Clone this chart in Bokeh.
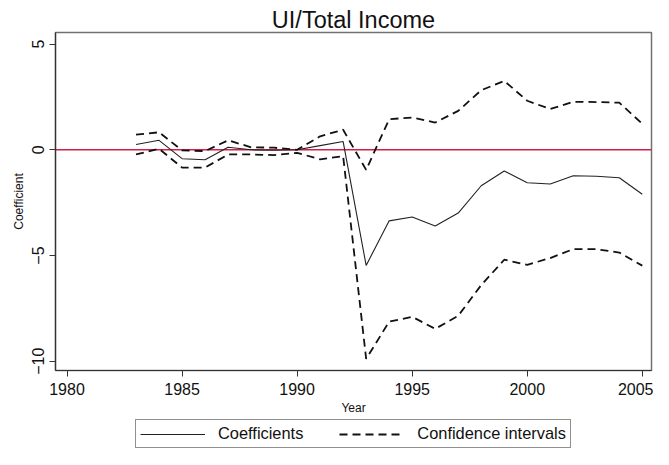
import math
from bokeh.plotting import figure
from bokeh.layouts import column
from bokeh.models import Range1d, FixedTicker, Span, Legend, LegendItem
from bokeh.embed import file_html
from bokeh.resources import INLINE

years = list(range(1983, 2006))
coef = [0.25, 0.45, -0.42, -0.47, 0.12, 0.0, -0.02, 0.0, 0.2, 0.39,
        -5.47, -3.36, -3.18, -3.60, -2.99, -1.70, -1.00, -1.56, -1.62,
        -1.23, -1.25, -1.32, -2.10]
ci_upper = [0.72, 0.83, -0.03, -0.06, 0.45, 0.12, 0.10, 0.0, 0.64, 0.95,
            -0.95, 1.45, 1.53, 1.29, 1.84, 2.82, 3.26, 2.32, 1.93,
            2.27, 2.26, 2.23, 1.23]
ci_lower = [-0.22, 0.05, -0.84, -0.84, -0.22, -0.22, -0.25, -0.14, -0.45, -0.30,
            -9.89, -8.13, -7.90, -8.47, -7.85, -6.40, -5.20, -5.44, -5.12,
            -4.70, -4.70, -4.86, -5.48]
x_ticks = [1980, 1985, 1990, 1995, 2000, 2005]
y_ticks = [-10, -5, 0, 5]
legend_labels = ["Coefficients", "Confidence intervals"]

FONT = "Liberation Sans"
SOLID = dict(line_color="#222222", line_width=1.1)
DASHED = dict(line_color="#111111", line_width=1.8, line_dash="8 5")

p = figure(frame_width=596, frame_height=338, output_backend="svg",
           toolbar_location=None,
           x_range=Range1d(1979.50, 2005.40), y_range=Range1d(-10.44, 5.55),
           min_border_left=55, min_border_right=2, min_border_top=32,
           min_border_bottom=47)

p.title.text = "UI/Total Income"
p.title.align = "center"
p.title.text_font = FONT
p.title.text_font_style = "normal"
p.title.text_font_size = "23.5px"
p.title.text_color = "#111111"
p.title.standoff = 0
p.title.offset = 0

p.background_fill_color = "white"
p.border_fill_color = "white"
p.outline_line_color = "#707070"
p.outline_line_width = 1.5
p.xgrid.visible = False
p.ygrid.visible = False

for ax in (p.xaxis[0], p.yaxis[0]):
    ax.axis_line_color = "#333333"
    ax.axis_line_width = 1.2
    ax.major_tick_line_color = "#333333"
    ax.major_tick_in = 0
    ax.major_tick_out = 6
    ax.minor_tick_line_color = None
    ax.major_label_text_font = FONT
    ax.major_label_text_font_size = "16px"
    ax.major_label_text_color = "#111111"
    ax.axis_label_text_font = FONT
    ax.axis_label_text_font_size = "12px"
    ax.axis_label_text_font_style = "normal"
    ax.axis_label_text_color = "#111111"

p.xaxis.ticker = FixedTicker(ticks=x_ticks)
p.yaxis.ticker = FixedTicker(ticks=y_ticks)
p.xaxis.axis_label = "Year"
p.yaxis.axis_label = "Coefficient"
p.yaxis.major_label_orientation = "parallel"
p.xaxis.major_label_standoff = 6
p.xaxis.axis_label_standoff = 3
p.yaxis.major_label_standoff = 5
p.yaxis.axis_label_standoff = 4

zero = Span(location=0, dimension="width", line_color="#d11f49",
            line_width=1.6, level="underlay")
p.add_layout(zero)

p.line(years, coef, **SOLID)
p.line(years, ci_upper, **DASHED)
p.line(years, ci_lower, **DASHED)

# legend strip below the chart (its key lines use the same data, outside its view)
pl = figure(width=653, height=32, output_backend="svg", toolbar_location=None,
            x_range=Range1d(0, 1), y_range=Range1d(0, 1), min_border=0)
pl.title.visible = False
pl.xaxis.visible = False
pl.yaxis.visible = False
pl.xgrid.visible = False
pl.ygrid.visible = False
pl.outline_line_color = None
pl.background_fill_color = "white"
pl.border_fill_color = "white"
k1 = pl.line(years, coef, **SOLID)
k2 = pl.line(years, ci_upper, **DASHED)
legend = Legend(items=[LegendItem(label=legend_labels[0], renderers=[k1]),
                       LegendItem(label=legend_labels[1], renderers=[k2])],
                orientation="horizontal", location=(80, 1),
                label_text_font=FONT, label_text_font_size="16.4px",
                label_text_color="#111111",
                glyph_width=65, glyph_height=18, label_standoff=13,
                spacing=36, padding=4, margin=0,
                border_line_color="#222222", border_line_width=1,
                background_fill_color="white")
pl.add_layout(legend)

layout = column(p, pl, spacing=0)
open("out.html", "w").write(file_html(layout, INLINE))
